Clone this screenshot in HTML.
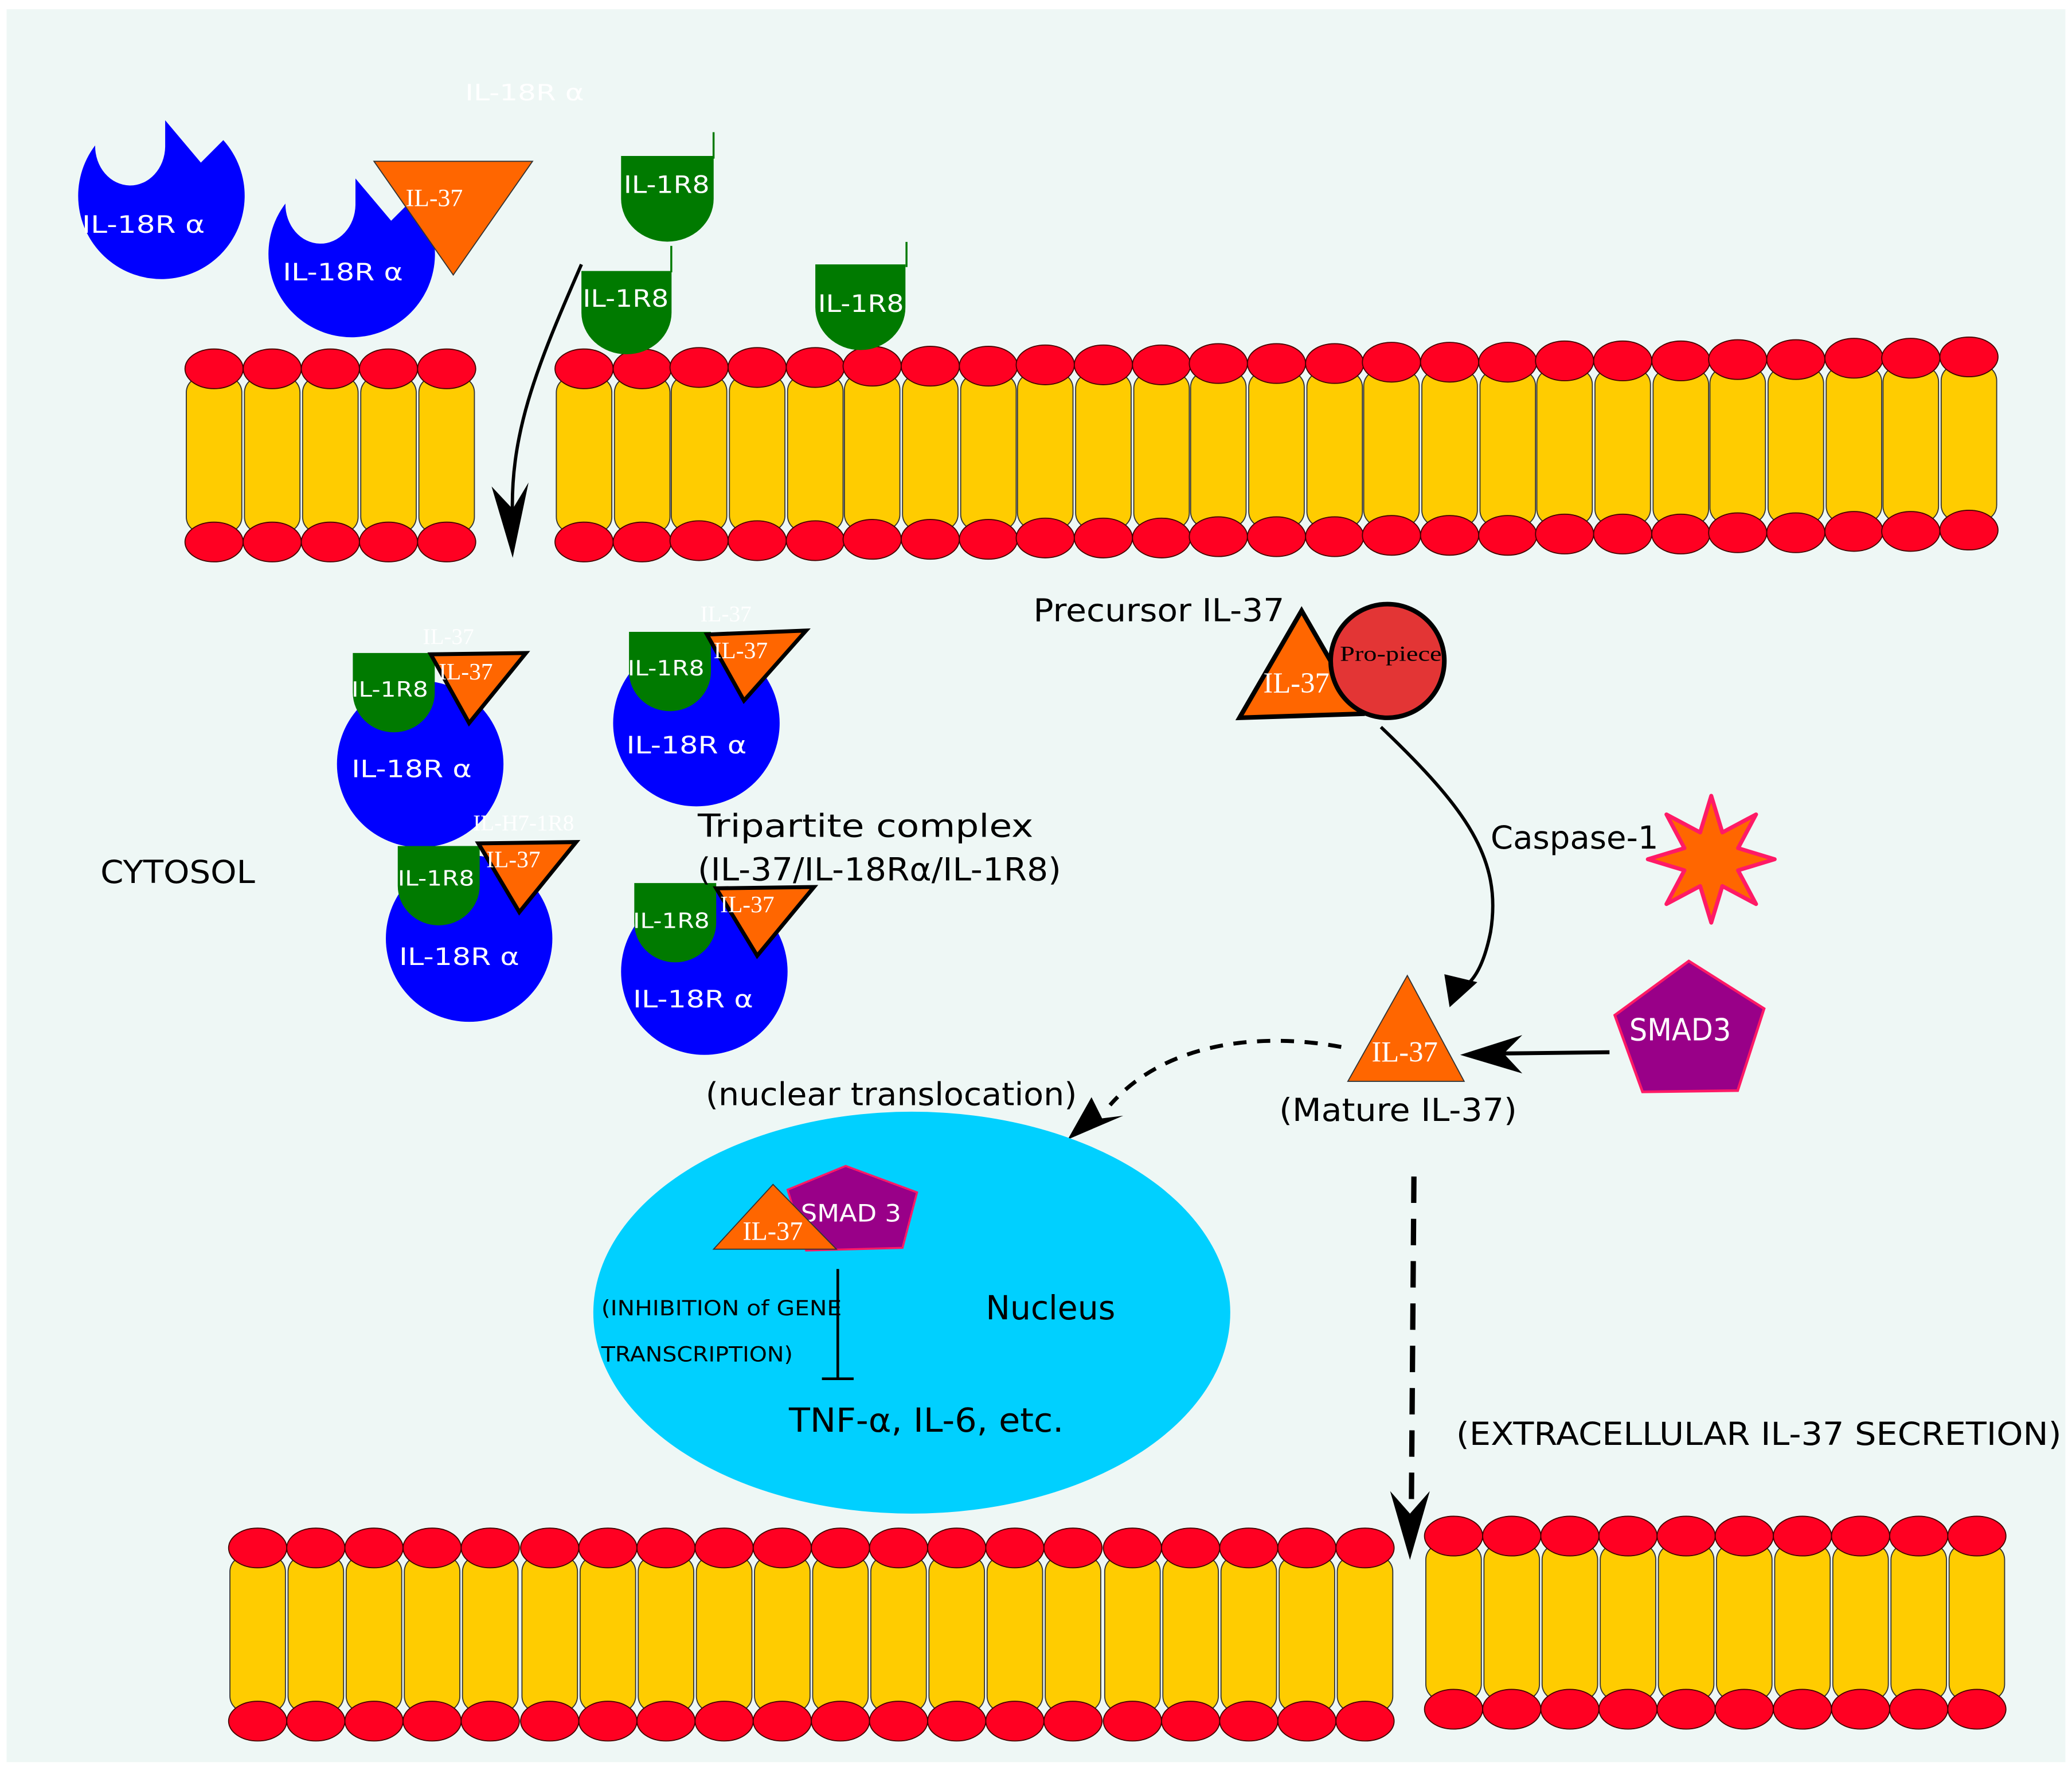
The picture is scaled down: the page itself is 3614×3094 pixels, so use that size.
<!DOCTYPE html>
<html><head><meta charset="utf-8"><style>html,body{margin:0;padding:0;background:#fff}svg{display:block}</style></head>
<body>
<svg width="3614" height="3094" viewBox="0 0 1568 1342" preserveAspectRatio="none" xmlns="http://www.w3.org/2000/svg" font-family="'DejaVu Sans','Liberation Sans',sans-serif">
<defs>
<g id="u">
<rect x="-21" y="6" width="42" height="118" rx="12" fill="#ffcc00" stroke="#333" stroke-width="0.8"/>
<ellipse cx="0" cy="0" rx="22" ry="15" fill="#ff0022" stroke="#400" stroke-width="0.8"/>
<ellipse cx="0" cy="131" rx="22" ry="15" fill="#ff0022" stroke="#400" stroke-width="0.8"/>
</g>
<path id="rec" d="M-50,-38 A24,27 0 0 0 3,-37 L3,-57 L30,-25 L47,-42 A63,63 0 1 1 -50,-38 Z" fill="#0000ff"/>
<path id="gr" d="M0,0 L62,0 L62,30 A31,30 0 0 1 0,30 Z" fill="#007a00"/>
</defs>
<rect x="0" y="0" width="1568" height="1342" fill="#fff"/>
<rect x="5" y="7" width="1558" height="1326" fill="#eef7f5"/>

<use href="#u" x="162" y="279"/><use href="#u" x="206" y="279"/><use href="#u" x="250" y="279"/><use href="#u" x="294" y="279"/><use href="#u" x="338" y="279"/>
<use href="#u" x="442" y="279"/><use href="#u" x="486" y="279"/><use href="#u" x="529" y="278"/><use href="#u" x="573" y="278"/><use href="#u" x="617" y="278"/><use href="#u" x="660" y="277"/><use href="#u" x="704" y="277"/><use href="#u" x="748" y="277"/><use href="#u" x="791" y="276"/><use href="#u" x="835" y="276"/><use href="#u" x="879" y="276"/><use href="#u" x="922" y="275"/><use href="#u" x="966" y="275"/><use href="#u" x="1010" y="275"/><use href="#u" x="1053" y="274"/><use href="#u" x="1097" y="274"/><use href="#u" x="1141" y="274"/><use href="#u" x="1184" y="273"/><use href="#u" x="1228" y="273"/><use href="#u" x="1272" y="273"/><use href="#u" x="1315" y="272"/><use href="#u" x="1359" y="272"/><use href="#u" x="1403" y="271"/><use href="#u" x="1446" y="271"/><use href="#u" x="1490" y="270"/>

<use href="#u" x="195" y="1171"/><use href="#u" x="239" y="1171"/><use href="#u" x="283" y="1171"/><use href="#u" x="327" y="1171"/><use href="#u" x="371" y="1171"/><use href="#u" x="416" y="1171"/><use href="#u" x="460" y="1171"/><use href="#u" x="504" y="1171"/><use href="#u" x="548" y="1171"/><use href="#u" x="592" y="1171"/><use href="#u" x="636" y="1171"/><use href="#u" x="680" y="1171"/><use href="#u" x="724" y="1171"/><use href="#u" x="768" y="1171"/><use href="#u" x="812" y="1171"/><use href="#u" x="857" y="1171"/><use href="#u" x="901" y="1171"/><use href="#u" x="945" y="1171"/><use href="#u" x="989" y="1171"/><use href="#u" x="1033" y="1171"/>
<use href="#u" x="1100" y="1162"/><use href="#u" x="1144" y="1162"/><use href="#u" x="1188" y="1162"/><use href="#u" x="1232" y="1162"/><use href="#u" x="1276" y="1162"/><use href="#u" x="1320" y="1162"/><use href="#u" x="1364" y="1162"/><use href="#u" x="1408" y="1162"/><use href="#u" x="1452" y="1162"/><use href="#u" x="1496" y="1162"/>

<text x="352" y="76" font-size="17" fill="#fff" textLength="90" lengthAdjust="spacingAndGlyphs">IL-18R  α</text>
<use href="#rec" x="122" y="148"/>
<text x="62" y="176" font-size="18" fill="#fff" textLength="93" lengthAdjust="spacingAndGlyphs">IL-18R  α</text>
<use href="#rec" x="266" y="192"/>
<text x="214" y="212" font-size="18" fill="#fff" textLength="91" lengthAdjust="spacingAndGlyphs">IL-18R  α</text>
<polygon points="283,122 403,122 343,208" fill="#ff6600" stroke="#333" stroke-width="0.8"/>
<text x="307" y="156" font-size="19" fill="#fff" font-family="'Liberation Serif',serif">IL-37</text>
<use href="#gr" x="470" y="118" transform="translate(470,118) scale(1.13,1.08) translate(-470,-118)"/>
<line x1="540" y1="100" x2="540" y2="120" stroke="#007a00" stroke-width="1.5"/>
<text x="472" y="146" font-size="18" fill="#fff" textLength="65" lengthAdjust="spacingAndGlyphs">IL-1R8</text>
<use href="#gr" x="440" y="205" transform="translate(440,205) scale(1.1,1.05) translate(-440,-205)"/>
<line x1="508" y1="186" x2="508" y2="206" stroke="#007a00" stroke-width="1.5"/>
<text x="441" y="232" font-size="18" fill="#fff" textLength="65" lengthAdjust="spacingAndGlyphs">IL-1R8</text>
<use href="#gr" x="617" y="200" transform="translate(617,200) scale(1.1,1.08) translate(-617,-200)"/>
<line x1="686" y1="183" x2="686" y2="202" stroke="#007a00" stroke-width="1.5"/>
<text x="619" y="236" font-size="18" fill="#fff" textLength="65" lengthAdjust="spacingAndGlyphs">IL-1R8</text>

<path d="M440,200 C405,280 385,330 388,395" fill="none" stroke="#000" stroke-width="2.5"/>
<polygon points="388,422 372,368 388,385 400,365" fill="#000"/>

<g>
<circle cx="318" cy="578" r="63" fill="#0000ff"/>
<use href="#gr" x="267" y="494"/>
<polygon points="326,495 398,494 355,547" fill="#ff6600" stroke="#000" stroke-width="3"/>
<text x="266" y="527" font-size="16" fill="#fff" textLength="58" lengthAdjust="spacingAndGlyphs">IL-1R8</text>
<text x="332" y="514" font-size="18" fill="#fff" font-family="'Liberation Serif',serif">IL-37</text>
<text x="320" y="487" font-size="17" fill="#fff" font-family="'Liberation Serif',serif">IL-37</text>
<text x="266" y="588" font-size="18" fill="#fff" textLength="91" lengthAdjust="spacingAndGlyphs">IL-18R  α</text>
</g>
<g>
<circle cx="527" cy="547" r="63" fill="#0000ff"/>
<use href="#gr" x="476" y="478"/>
<polygon points="535,480 610,477 563,530" fill="#ff6600" stroke="#000" stroke-width="3"/>
<text x="475" y="511" font-size="16" fill="#fff" textLength="58" lengthAdjust="spacingAndGlyphs">IL-1R8</text>
<text x="540" y="498" font-size="18" fill="#fff" font-family="'Liberation Serif',serif">IL-37</text>
<text x="530" y="470" font-size="17" fill="#fff" font-family="'Liberation Serif',serif">IL-37</text>
<text x="474" y="570" font-size="18" fill="#fff" textLength="91" lengthAdjust="spacingAndGlyphs">IL-18R  α</text>
</g>
<g>
<circle cx="355" cy="710" r="63" fill="#0000ff"/>
<use href="#gr" x="301" y="640"/>
<polygon points="362,638 436,637 393,690" fill="#ff6600" stroke="#000" stroke-width="3"/>
<text x="301" y="670" font-size="16" fill="#fff" textLength="58" lengthAdjust="spacingAndGlyphs">IL-1R8</text>
<text x="368" y="656" font-size="18" fill="#fff" font-family="'Liberation Serif',serif">IL-37</text>
<text x="358" y="628" font-size="17" fill="#fff" font-family="'Liberation Serif',serif">IL-H7-1R8</text>
<text x="302" y="730" font-size="18" fill="#fff" textLength="91" lengthAdjust="spacingAndGlyphs">IL-18R  α</text>
</g>
<g>
<circle cx="533" cy="735" r="63" fill="#0000ff"/>
<use href="#gr" x="480" y="668"/>
<polygon points="542,672 616,671 573,723" fill="#ff6600" stroke="#000" stroke-width="3"/>
<text x="479" y="702" font-size="16" fill="#fff" textLength="58" lengthAdjust="spacingAndGlyphs">IL-1R8</text>
<text x="545" y="690" font-size="18" fill="#fff" font-family="'Liberation Serif',serif">IL-37</text>
<text x="479" y="762" font-size="18" fill="#fff" textLength="91" lengthAdjust="spacingAndGlyphs">IL-18R  α</text>
</g>

<text x="528" y="633" font-size="24" fill="#000" textLength="254" lengthAdjust="spacingAndGlyphs">Tripartite complex</text>
<text x="528" y="666" font-size="24" fill="#000" textLength="275" lengthAdjust="spacingAndGlyphs">(IL-37/IL-18Rα/IL-1R8)</text>
<text x="76" y="668" font-size="24" fill="#000" textLength="117" lengthAdjust="spacingAndGlyphs">CYTOSOL</text>

<text x="782" y="470" font-size="24" fill="#000" textLength="190" lengthAdjust="spacingAndGlyphs">Precursor IL-37</text>
<polygon points="938,543 1030,540 985,462" fill="#ff6600" stroke="#000" stroke-width="3.5"/>
<circle cx="1050" cy="500" r="43" fill="#e33535" stroke="#000" stroke-width="3.5"/>
<text x="956" y="524" font-size="22" fill="#fff" font-family="'Liberation Serif',serif">IL-37</text>
<text x="1014" y="500" font-size="16" fill="#000" font-family="'Liberation Serif',serif" textLength="77" lengthAdjust="spacingAndGlyphs">Pro-piece</text>
<path d="M1045,550 C1110,612 1137,650 1128,705 Q1122,735 1110,745" fill="none" stroke="#000" stroke-width="2.5"/>
<polygon points="1097,762 1093,737 1118,743" fill="#000"/>
<text x="1128" y="642" font-size="24" fill="#000" textLength="127" lengthAdjust="spacingAndGlyphs">Caspase-1</text>
<polygon points="1295,602 1303.4,629.7 1328.9,616.1 1315.3,641.6 1343,650 1315.3,658.4 1328.9,683.9 1303.4,670.3 1295,698 1286.6,670.3 1261.1,683.9 1274.7,658.4 1247,650 1274.7,641.6 1261.1,616.1 1286.6,629.7" fill="#ff6600" stroke="#ff1a66" stroke-width="3" stroke-linejoin="round"/>

<polygon points="1020,818 1108,818 1065,738" fill="#ff6600" stroke="#333" stroke-width="0.8"/>
<text x="1038" y="803" font-size="22" fill="#fff" font-family="'Liberation Serif',serif">IL-37</text>
<text x="968" y="848" font-size="24" fill="#000" textLength="180" lengthAdjust="spacingAndGlyphs">(Mature IL-37)</text>
<polygon points="1278,727 1335,763 1315,825 1243,826 1222,768" fill="#990088" stroke="#ff1a66" stroke-width="2"/>
<text x="1233" y="787" font-size="23" fill="#fff" textLength="77" lengthAdjust="spacingAndGlyphs">SMAD3</text>
<line x1="1218" y1="796" x2="1130" y2="797" stroke="#000" stroke-width="3"/>
<polygon points="1105,798 1152,783 1138,797 1152,812" fill="#000"/>
<path d="M1015,792 C950,780 880,790 840,836" fill="none" stroke="#000" stroke-width="3" stroke-dasharray="10,8"/>
<polygon points="808,862 826,830 834,846 850,844" fill="#000"/>
<text x="534" y="836" font-size="24" fill="#000" textLength="281" lengthAdjust="spacingAndGlyphs">(nuclear translocation)</text>

<ellipse cx="690" cy="993" rx="241" ry="152" fill="#00d0ff"/>
<polygon points="640,882 694,902 683,944 610,946 596,900" fill="#990088" stroke="#ff1a66" stroke-width="1.5"/>
<text x="606" y="924" font-size="18" fill="#fff" textLength="76" lengthAdjust="spacingAndGlyphs">SMAD 3</text>
<polygon points="540,945 633,945 585,896" fill="#ff6600" stroke="#333" stroke-width="0.8"/>
<text x="562" y="938" font-size="20" fill="#fff" font-family="'Liberation Serif',serif">IL-37</text>
<line x1="634" y1="960" x2="634" y2="1043" stroke="#000" stroke-width="2"/>
<line x1="622" y1="1043" x2="646" y2="1043" stroke="#000" stroke-width="2"/>
<text x="455" y="995" font-size="16" fill="#000" textLength="182" lengthAdjust="spacingAndGlyphs">(INHIBITION of GENE</text>
<text x="455" y="1030" font-size="16" fill="#000" textLength="145" lengthAdjust="spacingAndGlyphs">TRANSCRIPTION)</text>
<text x="746" y="998" font-size="25" fill="#000" textLength="98" lengthAdjust="spacingAndGlyphs">Nucleus</text>
<text x="597" y="1083" font-size="25" fill="#000" textLength="208" lengthAdjust="spacingAndGlyphs">TNF-α, IL-6, etc.</text>

<line x1="1070" y1="890" x2="1068" y2="1150" stroke="#000" stroke-width="4" stroke-dasharray="20,12"/>
<polygon points="1067,1180 1052,1128 1067,1145 1082,1128" fill="#000"/>
<text x="1102" y="1093" font-size="24" fill="#000" textLength="458" lengthAdjust="spacingAndGlyphs">(EXTRACELLULAR IL-37 SECRETION)</text>
</svg>
</body></html>
